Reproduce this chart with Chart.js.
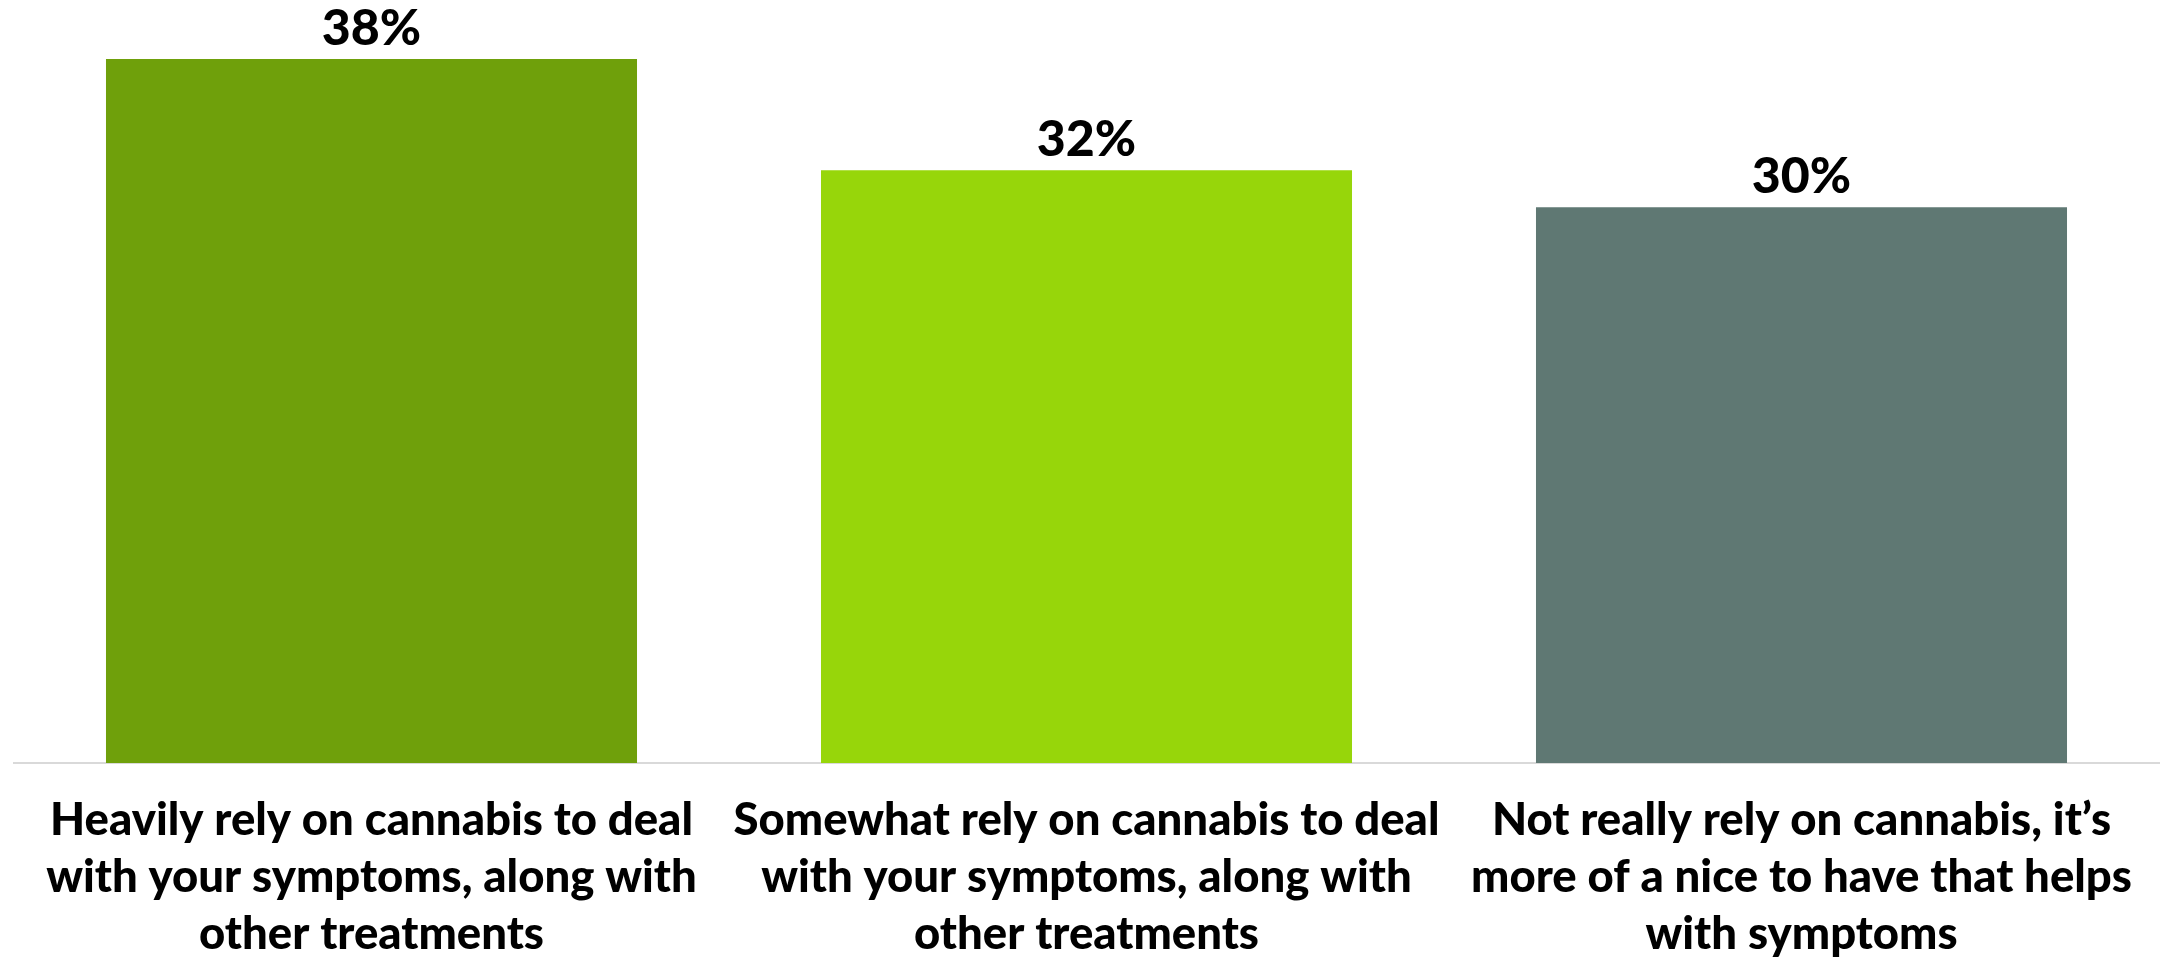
<!DOCTYPE html>
<html>
<head>
<meta charset="utf-8">
<script src="https://cdn.jsdelivr.net/npm/chart.js@4/dist/chart.umd.min.js"></script>
<style>
  html, body { margin: 0; padding: 0; background: #ffffff; }
  #wrap { width: 2163px; height: 960px; position: relative; }
</style>
</head>
<body>
<div id="wrap"><canvas id="c"></canvas></div>
<script>
const categories = [
  ["Heavily rely on cannabis to deal", "with your symptoms, along with", "other treatments"],
  ["Somewhat rely on cannabis to deal", "with your symptoms, along with", "other treatments"],
  ["Not really rely on cannabis, it\u2019s", "more of a nice to have that helps", "with symptoms"]
];
const values = [38, 32, 30];
const valueLabels = ["38%", "32%", "30%"];
const barColors = ["#6FA00B", "#97D60A", "#5F7873"];

const FONT = "Lato, 'Open Sans', sans-serif";

const valueLabelPlugin = {
  id: 'valueLabels',
  afterDatasetsDraw(chart) {
    const ctx = chart.ctx;
    const meta = chart.getDatasetMeta(0);
    ctx.save();
    ctx.font = "900 50px " + FONT;
    ctx.fillStyle = "#000000";
    ctx.textAlign = "center";
    ctx.textBaseline = "alphabetic";
    meta.data.forEach((bar, i) => {
      ctx.fillText(valueLabels[i], bar.x, bar.y - 14);
    });
    ctx.restore();
  }
};

new Chart(document.getElementById('c'), {
  type: 'bar',
  data: {
    labels: categories,
    datasets: [{
      data: values,
      backgroundColor: barColors,
      borderWidth: 0,
      categoryPercentage: 1.0,
      barPercentage: 0.7427
    }]
  },
  options: {
    responsive: true,
    maintainAspectRatio: false,
    animation: false,
    layout: { padding: { top: 22, left: 14, right: 4, bottom: 0 } },
    plugins: {
      legend: { display: false },
      tooltip: { enabled: false },
      title: { display: false }
    },
    scales: {
      x: {
        grid: { display: false, drawTicks: false },
        border: { display: true, color: "#D9D9D9", width: 2 },
        ticks: {
          color: "#000000",
          padding: 29,
          maxRotation: 0,
          autoSkip: false,
          font: { family: FONT, size: 45.5, weight: '900', lineHeight: '57px' }
        },
        afterFit(scale) { scale.height = 197; }
      },
      y: {
        display: false,
        min: 0,
        max: 40
      }
    }
  },
  plugins: [valueLabelPlugin]
});
</script>
</body>
</html>
